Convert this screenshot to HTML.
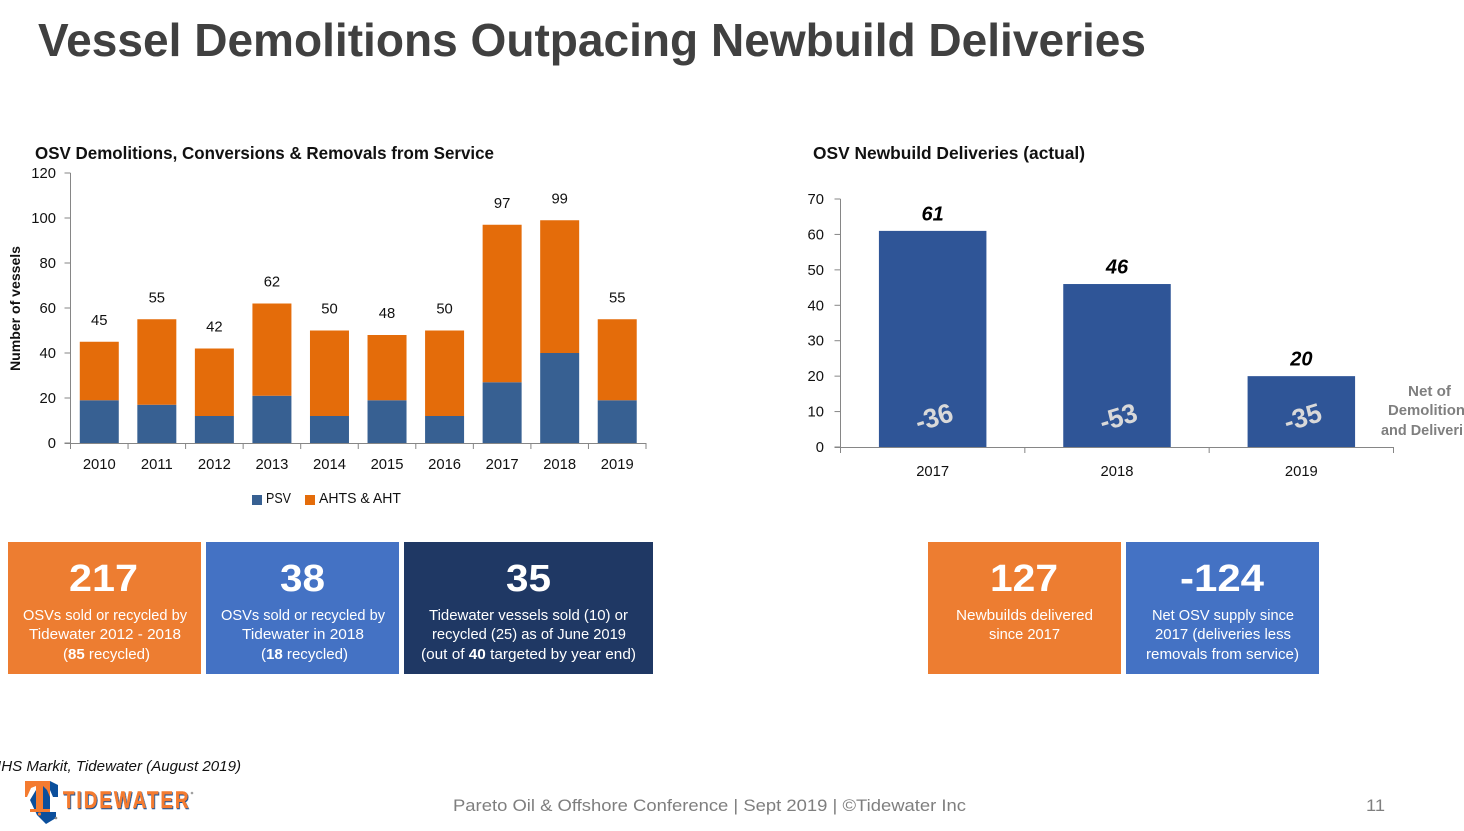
<!DOCTYPE html>
<html lang="en">
<head>
<meta charset="utf-8">
<title>Vessel Demolitions Outpacing Newbuild Deliveries</title>
<style>
html,body{margin:0;padding:0;background:#fff;width:1464px;height:831px;overflow:hidden}
svg{display:block;font-family:"Liberation Sans",sans-serif}
.tick{font-size:14.8px;fill:#111}
.box-line{font-size:15px;fill:#fff}
.big{font-size:38px;font-weight:700;fill:#fff}
.note{font-size:14.5px;font-weight:700;fill:#7f7f7f}
.ttl{font-size:17.5px;font-weight:700;fill:#111}
.wordmark{filter:drop-shadow(1px 1px 0 #0B4F9C)}
</style>
</head>
<body>
<svg id="slide" width="1464" height="831" viewBox="0 0 1464 831" xmlns="http://www.w3.org/2000/svg">
  <text x="38" y="56" font-size="46" font-weight="700" fill="#404040" textLength="1108" lengthAdjust="spacingAndGlyphs">Vessel Demolitions Outpacing Newbuild Deliveries</text>

  <text class="ttl" x="35" y="159" textLength="459" lengthAdjust="spacingAndGlyphs">OSV Demolitions, Conversions &amp; Removals from Service</text>
  <text class="ttl" x="813" y="159" textLength="272" lengthAdjust="spacingAndGlyphs">OSV Newbuild Deliveries (actual)</text>

  <g id="left-chart"></g>
  <text transform="translate(20 371) rotate(-90)" font-size="14" font-weight="700" fill="#111" textLength="125" lengthAdjust="spacingAndGlyphs">Number of vessels</text>

  <g>
    <rect x="252" y="495" width="10" height="10" fill="#376092"/>
    <text class="tick" x="266" y="503" textLength="25" lengthAdjust="spacingAndGlyphs">PSV</text>
    <rect x="305" y="495" width="10" height="10" fill="#E46C0A"/>
    <text class="tick" x="319" y="503" textLength="82" lengthAdjust="spacingAndGlyphs">AHTS &amp; AHT</text>
  </g>

  <g id="right-chart"></g>

  <g>
    <text class="note" x="1408" y="396" textLength="43" lengthAdjust="spacingAndGlyphs">Net of</text>
    <text class="note" x="1388" y="415" textLength="77" lengthAdjust="spacingAndGlyphs">Demolition</text>
    <text class="note" x="1381" y="435" textLength="82" lengthAdjust="spacingAndGlyphs">and Deliveri</text>
  </g>

  <g>
    <rect x="8" y="542" width="193" height="132" fill="#ED7D31"/>
    <text class="big" x="69" y="591" textLength="69" lengthAdjust="spacingAndGlyphs">217</text>
    <text class="box-line" x="23" y="620" textLength="164" lengthAdjust="spacingAndGlyphs">OSVs sold or recycled by</text>
    <text class="box-line" x="29" y="639" textLength="152" lengthAdjust="spacingAndGlyphs">Tidewater 2012 - 2018</text>
    <text class="box-line" x="63" y="659" textLength="87" lengthAdjust="spacingAndGlyphs">(<tspan font-weight="700">85</tspan> recycled)</text>
  </g>
  <g>
    <rect x="206" y="542" width="193" height="132" fill="#4472C4"/>
    <text class="big" x="280" y="591" textLength="45" lengthAdjust="spacingAndGlyphs">38</text>
    <text class="box-line" x="221" y="620" textLength="164" lengthAdjust="spacingAndGlyphs">OSVs sold or recycled by</text>
    <text class="box-line" x="242" y="639" textLength="122" lengthAdjust="spacingAndGlyphs">Tidewater in 2018</text>
    <text class="box-line" x="261" y="659" textLength="87" lengthAdjust="spacingAndGlyphs">(<tspan font-weight="700">18</tspan> recycled)</text>
  </g>
  <g>
    <rect x="404" y="542" width="249" height="132" fill="#1F3864"/>
    <text class="big" x="506" y="591" textLength="45" lengthAdjust="spacingAndGlyphs">35</text>
    <text class="box-line" x="429" y="620" textLength="199" lengthAdjust="spacingAndGlyphs">Tidewater vessels sold (10) or</text>
    <text class="box-line" x="432" y="639" textLength="194" lengthAdjust="spacingAndGlyphs">recycled (25) as of June 2019</text>
    <text class="box-line" x="421" y="659" textLength="215" lengthAdjust="spacingAndGlyphs">(out of <tspan font-weight="700">40</tspan> targeted by year end)</text>
  </g>
  <g>
    <rect x="928" y="542" width="193" height="132" fill="#ED7D31"/>
    <text class="big" x="990" y="591" textLength="68" lengthAdjust="spacingAndGlyphs">127</text>
    <text class="box-line" x="956" y="620" textLength="137" lengthAdjust="spacingAndGlyphs">Newbuilds delivered</text>
    <text class="box-line" x="989" y="639" textLength="71" lengthAdjust="spacingAndGlyphs">since 2017</text>
  </g>
  <g>
    <rect x="1126" y="542" width="193" height="132" fill="#4472C4"/>
    <text class="big" x="1180" y="591" textLength="84" lengthAdjust="spacingAndGlyphs">-124</text>
    <text class="box-line" x="1152" y="620" textLength="142" lengthAdjust="spacingAndGlyphs">Net OSV supply since</text>
    <text class="box-line" x="1155" y="639" textLength="136" lengthAdjust="spacingAndGlyphs">2017 (deliveries less</text>
    <text class="box-line" x="1146" y="659" textLength="153" lengthAdjust="spacingAndGlyphs">removals from service)</text>
  </g>

  <text x="-3" y="771" font-size="14.5" font-style="italic" fill="#111" textLength="244" lengthAdjust="spacingAndGlyphs">IHS Markit, Tidewater (August 2019)</text>

  <g>
    <polygon points="50,781 58,785 58,797 53,797 50,790 50,812 56,812 56,818 46,824 37,815 30,800 36,790" fill="#0B4F9C"/>
    <polygon points="25,781 50,781 50,797 47,790 43,786 43,809 50,809 50,812 30,812 30,809 36,809 36,786 31,788 27,797 25,797" fill="#F47B30"/>
    <circle cx="39.5" cy="814" r="1.6" fill="#F47B30"/>
    <circle cx="56" cy="818" r="1.3" fill="#8a8a8a"/>
    <text class="wordmark" transform="translate(63 808) scale(0.78 1)" font-size="24" font-weight="700" fill="#F47B30" stroke="#F47B30" stroke-width="0.5" textLength="161" lengthAdjust="spacing">TIDEWATER</text>
    <circle cx="192" cy="793" r="1.3" fill="#a0a0a0"/>
  </g>

  <text x="453" y="811" font-size="17" fill="#7f7f7f" textLength="513" lengthAdjust="spacingAndGlyphs">Pareto Oil &amp; Offshore Conference | Sept 2019 | ©Tidewater Inc</text>
  <text x="1366" y="811" font-size="17" fill="#7f7f7f" textLength="19" lengthAdjust="spacingAndGlyphs">11</text>
</svg>

<script>
// Left chart data
const leftYears = ['2010','2011','2012','2013','2014','2015','2016','2017','2018','2019'];
const psvValues = [19,17,12,21,12,19,12,27,40,19];
const ahtsValues = [26,38,30,41,38,29,38,70,59,36];
const leftTotals = [45,55,42,62,50,48,50,97,99,55];
const leftTicks = [0,20,40,60,80,100,120];

// Right chart data
const rightYears = ['2017','2018','2019'];
const deliveries = [61,46,20];
const netSupply = ['-36','-53','-35'];
const rightTicks = [0,10,20,30,40,50,60,70];

const NS = 'http://www.w3.org/2000/svg';
const AXIS = '#868686';

function make(parent, tag, attrs, content) {
  const el = document.createElementNS(NS, tag);
  for (const k in attrs) el.setAttribute(k, attrs[k]);
  if (content !== undefined) el.textContent = content;
  parent.appendChild(el);
  return el;
}

// --- Left chart axes ---
const left = document.getElementById('left-chart');
const lx0 = 70.5, lx1 = 646, ly0 = 443, ly1 = 173, lMax = 120;
const lBand = (lx1 - lx0) / leftYears.length;
const lBarW = 39;
function lY(v) { return ly0 - (v / lMax) * (ly0 - ly1); }
function lX(i) { return lx0 + lBand * (i + 0.5); }

const lYAxis = make(left, 'line', {x1: lx0, x2: lx0, y1: ly1, y2: ly0, stroke: AXIS, 'stroke-width': 1});



leftTicks.forEach(function (t) {
  const mark = make(left, 'line', {x1: lx0 - 6, x2: lx0, y1: lY(t), y2: lY(t), stroke: AXIS, 'stroke-width': 1});
  
  
  const label = make(left, 'text', {x: 56, y: lY(t) + 5, 'text-anchor': 'end', class: 'tick'}, t);
  
  
});

leftYears.forEach(function (year, i) {
  const psvBar = make(left, 'rect', {x: lX(i) - lBarW / 2, y: lY(psvValues[i]), width: lBarW, height: ly0 - lY(psvValues[i]), fill: '#376092'});
  
  
  const top = psvValues[i] + ahtsValues[i];
  const ahtsBar = make(left, 'rect', {x: lX(i) - lBarW / 2, y: lY(top), width: lBarW, height: lY(psvValues[i]) - lY(top), fill: '#E46C0A'});
  
  
  const total = make(left, 'text', {x: lX(i), y: lY(top) - 17, 'text-anchor': 'middle', class: 'tick'}, leftTotals[i]);
  
  
  const cat = make(left, 'text', {x: lX(i), y: 469, 'text-anchor': 'middle', class: 'tick'}, year);
  
  
});

const lXAxis = make(left, 'line', {x1: lx0 - 6, x2: lx1, y1: ly0 + 0.5, y2: ly0 + 0.5, stroke: AXIS, 'stroke-width': 1});


for (let i = 0; i <= leftYears.length; i++) {
  const m = make(left, 'line', {x1: lx0 + lBand * i, x2: lx0 + lBand * i, y1: ly0, y2: ly0 + 6, stroke: AXIS, 'stroke-width': 1});
  
  
}

// --- Right chart axes ---
const right = document.getElementById('right-chart');
const rx0 = 840.5, rx1 = 1393.5, ry0 = 447, ry1 = 199, rMax = 70;
const rBand = (rx1 - rx0) / rightYears.length;
const rBarW = 107.5;
function rY(v) { return ry0 - (v / rMax) * (ry0 - ry1); }
function rX(i) { return rx0 + rBand * (i + 0.5); }

const rYAxis = make(right, 'line', {x1: rx0, x2: rx0, y1: ry1, y2: ry0, stroke: AXIS, 'stroke-width': 1});



rightTicks.forEach(function (t) {
  const mark = make(right, 'line', {x1: rx0 - 6, x2: rx0, y1: rY(t), y2: rY(t), stroke: AXIS, 'stroke-width': 1});
  
  
  const label = make(right, 'text', {x: 824, y: rY(t) + 5, 'text-anchor': 'end', class: 'tick'}, t);
  
  
});

rightYears.forEach(function (year, i) {
  const bar = make(right, 'rect', {x: rX(i) - rBarW / 2, y: rY(deliveries[i]), width: rBarW, height: ry0 - rY(deliveries[i]), fill: '#2F5597'});
  
  
  const value = make(right, 'text', {x: rX(i), y: rY(deliveries[i]) - 10.5, 'text-anchor': 'middle', 'font-size': 20, 'font-weight': 700, 'font-style': 'italic', fill: '#000'}, deliveries[i]);
  
  
  const net = make(right, 'text', {transform: 'translate(' + (rX(i) + 4) + ' 426) rotate(-17)', 'text-anchor': 'middle', 'font-size': 27, 'font-weight': 700, fill: '#D9D9D9', textLength: 38, lengthAdjust: 'spacingAndGlyphs'}, netSupply[i]);
  
  
  const cat = make(right, 'text', {x: rX(i), y: 476, 'text-anchor': 'middle', class: 'tick'}, year);
  
  
});

const rXAxis = make(right, 'line', {x1: rx0 - 6, x2: rx1, y1: ry0 + 0.5, y2: ry0 + 0.5, stroke: AXIS, 'stroke-width': 1});


for (let i = 0; i <= rightYears.length; i++) {
  const m = make(right, 'line', {x1: rx0 + rBand * i, x2: rx0 + rBand * i, y1: ry0, y2: ry0 + 6, stroke: AXIS, 'stroke-width': 1});
  
  
}
</script>
</body>
</html>
